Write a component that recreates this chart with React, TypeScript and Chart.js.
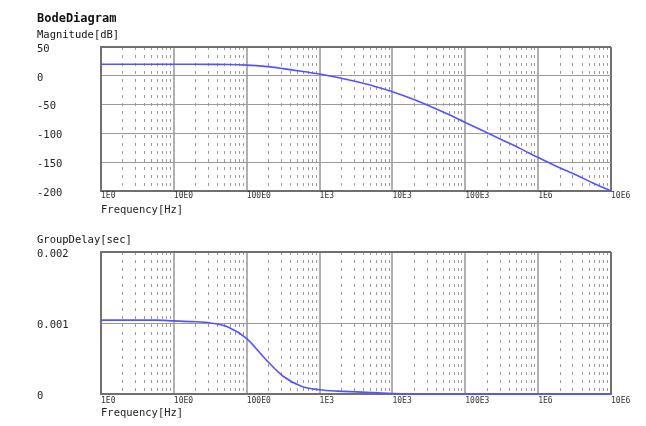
import React, { useEffect, useRef } from 'react';
import { Chart, registerables } from 'chart.js';

Chart.register(...registerables);

// ---- data ----
const frequencies = [
  1, 1.778, 3.162, 5.623, 10, 17.78, 31.62, 56.23, 100, 177.8, 316.2, 562.3,
  1000, 1778, 3162, 5623, 10000, 17783, 31623, 56234, 100000, 177828, 316228,
  562341, 1000000, 1778279, 3162278, 5623413, 10000000,
];
const magnitudeDb = [
  20, 20, 20, 20, 20, 20, 19.9, 19.6, 18.5, 16.3, 12.5, 8, 3, -3, -10, -18,
  -27.5, -39, -52, -66, -81, -96, -111, -126, -142, -157, -171, -186, -200,
];
const groupDelaySec = [
  0.00104, 0.00104, 0.00104, 0.00104, 0.00103, 0.00102, 0.001, 0.00094,
  0.00078, 0.0005, 0.00025, 0.00011, 0.00006, 0.00004, 0.00003, 0.00002,
  0.000005, 0, 0, 0, 0, 0, 0, 0, 0, 0, 0, 0, 0,
];
const decadeValues = [1, 10, 100, 1000, 10000, 100000, 1000000, 10000000];
const decadeLabels = ['1E0', '10E0', '100E0', '1E3', '10E3', '100E3', '1E6', '10E6'];
const minorMultipliers = [2, 3, 4, 5, 6, 7, 8, 9];
const magnitudeTicks = [50, 0, -50, -100, -150, -200];
const magnitudeTickLabels = ['50', '0', '-50', '-100', '-150', '-200'];
const delayTicks = [0.002, 0.001, 0];
const delayTickLabels = ['0.002', '0.001', '0'];

const MONO = "'DejaVu Sans Mono', monospace";
const LINE_COLOR = 'rgb(84, 84, 255)';
const FRAME = '#707070';

function isDecade(v: number) {
  return decadeValues.some((d) => Math.abs(d - v) / d < 1e-9);
}

function buildXTicks() {
  const vals: number[] = [];
  for (let i = 0; i < decadeValues.length; i++) {
    vals.push(decadeValues[i]);
    if (i < decadeValues.length - 1) {
      for (const m of minorMultipliers) vals.push(decadeValues[i] * m);
    }
  }
  return vals.map((v) => ({ value: v }));
}

function headerPlugin(lines: { text: string; x: number; y: number; font: string }[]) {
  return {
    id: 'headerText',
    afterDraw(chart: any) {
      const ctx = chart.ctx;
      ctx.save();
      ctx.fillStyle = '#111';
      ctx.textBaseline = 'middle';
      ctx.textAlign = 'left';
      for (const l of lines) {
        ctx.font = l.font;
        ctx.fillText(l.text, l.x, l.y);
      }
      ctx.restore();
    },
  };
}

function makeConfig(opts: {
  values: number[];
  yMin: number;
  yMax: number;
  yTicks: number[];
  yLabels: string[];
  padTop: number;
  xHeight: number;
  xTickPad: number;
  titlePadBottom: number;
  header: { text: string; x: number; y: number; font: string }[];
}): any {
  return {
    type: 'line',
    data: {
      datasets: [
        {
          data: frequencies.map((f, i) => ({ x: f, y: opts.values[i] })),
          borderColor: LINE_COLOR,
          borderWidth: 1.6,
          pointRadius: 0,
          fill: false,
          clip: 4,
          cubicInterpolationMode: 'monotone',
        },
      ],
    },
    options: {
      animation: false,
      responsive: false,
      devicePixelRatio: 1,
      layout: { padding: { left: 37, right: 35, top: opts.padTop, bottom: 0 } },
      plugins: { legend: { display: false }, tooltip: { enabled: false } },
      scales: {
        x: {
          type: 'logarithmic',
          min: 1,
          max: 10000000,
          afterBuildTicks: (scale: any) => {
            scale.ticks = buildXTicks();
          },
          afterFit: (scale: any) => {
            scale.height = opts.xHeight;
          },
          ticks: {
            autoSkip: false,
            maxRotation: 0,
            minRotation: 0,
            align: 'start',
            padding: opts.xTickPad,
            color: '#333',
            font: { family: MONO, size: 8 },
            callback: (value: number) => {
              const idx = decadeValues.findIndex((d) => Math.abs(d - value) / d < 1e-9);
              return idx >= 0 ? decadeLabels[idx] : '';
            },
          },
          grid: {
            drawTicks: false,
            color: (ctx: any) => {
              const v = ctx.tick ? ctx.tick.value : null;
              if (v == null) return '#999';
              if (isDecade(v)) return v >= 10000000 ? FRAME : '#b0b0b0';
              return '#9a9a9a';
            },
            lineWidth: (ctx: any) => {
              const v = ctx.tick ? ctx.tick.value : null;
              if (v != null && isDecade(v)) return 2;
              return 1;
            },
          },
          border: {
            display: true,
            color: FRAME,
            width: 2,
            dash: (ctx: any) => {
              const v = ctx.tick ? ctx.tick.value : null;
              if (v == null || isDecade(v)) return [];
              return [3, 5];
            },
          },
          title: {
            display: true,
            text: 'Frequency[Hz]',
            align: 'start',
            color: '#222',
            font: { family: MONO, size: 10.5 },
            padding: { top: 0, bottom: opts.titlePadBottom },
          },
        },
        y: {
          type: 'linear',
          min: opts.yMin,
          max: opts.yMax,
          afterBuildTicks: (scale: any) => {
            scale.ticks = opts.yTicks.map((v) => ({ value: v }));
          },
          afterFit: (scale: any) => {
            scale.width = 64;
          },
          ticks: {
            crossAlign: 'far',
            labelOffset: 2,
            color: '#222',
            font: { family: MONO, size: 10.5 },
            callback: (value: number) => {
              const idx = opts.yTicks.findIndex((t) => Math.abs(t - value) < 1e-12);
              return idx >= 0 ? opts.yLabels[idx] : '';
            },
          },
          grid: {
            drawTicks: false,
            color: (ctx: any) => {
              const v = ctx.tick ? ctx.tick.value : null;
              if (v != null && Math.abs(v - opts.yMax) < 1e-12) return FRAME;
              return '#9a9a9a';
            },
            lineWidth: (ctx: any) => {
              const v = ctx.tick ? ctx.tick.value : null;
              if (v != null && Math.abs(v - opts.yMax) < 1e-12) return 2;
              return 1;
            },
          },
          border: { display: true, color: FRAME, width: 2 },
        },
      },
    },
    plugins: [headerPlugin(opts.header)],
  };
}

function ChartCanvas({ config, width, height, top }: { config: any; width: number; height: number; top: number }) {
  const ref = useRef<HTMLCanvasElement | null>(null);
  useEffect(() => {
    if (!ref.current) return;
    const chart = new Chart(ref.current, config);
    return () => chart.destroy();
  }, [config]);
  return (
    <canvas
      ref={ref}
      width={width}
      height={height}
      style={{ position: 'absolute', left: 0, top, width, height, display: 'block' }}
    />
  );
}

const magConfig = makeConfig({
  values: magnitudeDb,
  yMin: -200,
  yMax: 50,
  yTicks: magnitudeTicks,
  yLabels: magnitudeTickLabels,
  padTop: 47,
  xHeight: 29,
  xTickPad: 0,
  titlePadBottom: 3.5,
  header: [
    { text: 'BodeDiagram', x: 37, y: 18.5, font: `bold 12px ${MONO}` },
    { text: 'Magnitude[dB]', x: 37, y: 35, font: `10.5px ${MONO}` },
  ],
});

const delayConfig = makeConfig({
  values: groupDelaySec,
  yMin: 0,
  yMax: 0.002,
  yTicks: delayTicks,
  yLabels: delayTickLabels,
  padTop: 32,
  xHeight: 32,
  xTickPad: 2,
  titlePadBottom: 6,
  header: [{ text: 'GroupDelay[sec]', x: 37, y: 20, font: `10.5px ${MONO}` }],
});

export default function App() {
  return (
    <div style={{ position: 'absolute', left: 0, top: 0, width: 646, height: 426, background: '#fff' }}>
      <ChartCanvas config={magConfig} width={646} height={220} top={0} />
      <ChartCanvas config={delayConfig} width={646} height={206} top={220} />
    </div>
  );
}
